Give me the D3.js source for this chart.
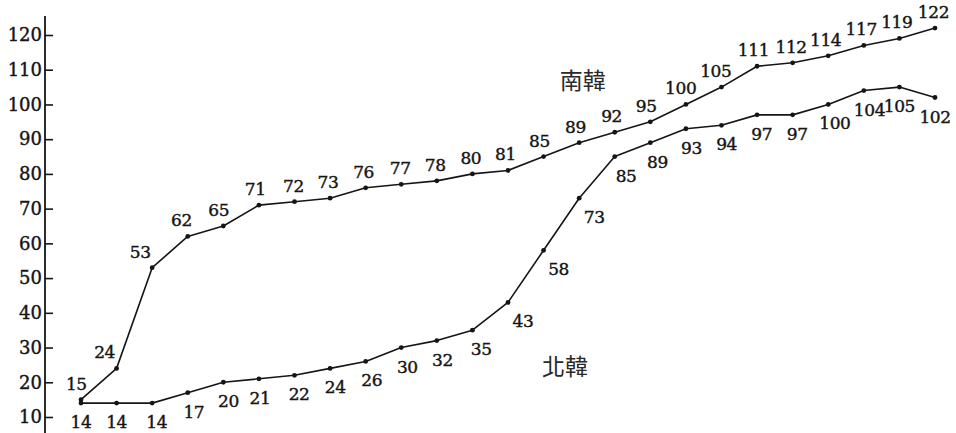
<!DOCTYPE html>
<html>
<head>
<meta charset="utf-8">
<script src="https://cdn.jsdelivr.net/npm/d3@7"></script>
<style>
  html, body { margin: 0; padding: 0; background: #fff; }
  svg { display: block; }
</style>
</head>
<body>
<svg id="chart" width="956" height="433"></svg>
<script>
// ---- data ----
const periods = [1, 2, 3, 4, 5, 6, 7, 8, 9, 10, 11, 12, 13, 14, 15, 16, 17, 18, 19, 20, 21, 22, 23, 24, 25];
const southKorea = [15, 24, 53, 62, 65, 71, 72, 73, 76, 77, 78, 80, 81, 85, 89, 92, 95, 100, 105, 111, 112, 114, 117, 119, 122];
const northKorea = [14, 14, 14, 17, 20, 21, 22, 24, 26, 30, 32, 35, 43, 58, 73, 85, 89, 93, 94, 97, 97, 100, 104, 105, 102];
const yTicks = [10, 20, 30, 40, 50, 60, 70, 80, 90, 100, 110, 120];
const seriesNames = ["南韓", "北韓"];

// ---- layout ----
const svg = d3.select("#chart");
const axisX = 45;
const x = d3.scaleLinear().domain([0, periods.length - 1]).range([81, 935]);
const y = d3.scaleLinear().domain([10, 120]).range([417, 35]);
const serif = "'DejaVu Serif', 'Liberation Serif', serif";
const ink = "#151515";

// axis
const axis = d3.axisLeft(y).tickValues(yTicks).tickSize(-8).tickPadding(3).tickFormat(d3.format("d"));
const gAxis = svg.append("g").attr("transform", `translate(${axisX},0)`).call(axis);
gAxis.select(".domain").remove();
gAxis.selectAll(".tick line").attr("stroke", ink).attr("stroke-width", 1.6);
gAxis.selectAll(".tick text")
  .attr("font-family", serif).attr("font-size", 18).attr("fill", ink)
  .attr("stroke", ink).attr("stroke-width", 0.4);
gAxis.append("line")
  .attr("x1", 0).attr("x2", 0)
  .attr("y1", y(125.5)).attr("y2", y(5))
  .attr("stroke", ink).attr("stroke-width", 1.8);

const line = d3.line().x((d, i) => x(i)).y(d => y(d));

function drawSeries(vals, above) {
  const g = svg.append("g");
  g.append("path").datum(vals)
    .attr("d", line).attr("fill", "none")
    .attr("stroke", ink).attr("stroke-width", 1.6).attr("stroke-linejoin", "round");
  g.selectAll("circle").data(vals).join("circle")
    .attr("cx", (d, i) => x(i)).attr("cy", d => y(d)).attr("r", 2.4).attr("fill", ink);
  g.selectAll("text").data(vals).join("text")
    .attr("x", (d, i) => {
      const prev = i > 0 ? vals[i - 1] : d;
      const next = i < vals.length - 1 ? vals[i + 1] : d;
      const slopePx = (y(prev) - y(next)) / 2; // positive when rising
      const shift = Math.max(0, Math.min(12, slopePx * 0.3));
      return x(i) + (above ? -shift : shift + (slopePx > 4 ? 3 : 0));
    })
    .attr("y", d => y(d) + (above ? -10 : 25))
    .attr("text-anchor", "middle")
    .attr("font-family", serif).attr("font-size", 17).attr("letter-spacing", -0.4)
    .attr("fill", ink).attr("stroke", ink).attr("stroke-width", 0.4)
    .text(d => d);
}
drawSeries(southKorea, true);
drawSeries(northKorea, false);

// series names
const cjk = "'Noto Sans CJK TC', 'Noto Sans CJK SC', sans-serif";
svg.append("text").attr("x", x(14.1)).attr("y", y(104.5))
  .attr("text-anchor", "middle").attr("font-family", cjk).attr("font-size", 23)
  .attr("fill", "#2a2a2a").text(seriesNames[0]);
svg.append("text").attr("x", x(13.6)).attr("y", y(22))
  .attr("text-anchor", "middle").attr("font-family", cjk).attr("font-size", 23)
  .attr("fill", "#2a2a2a").text(seriesNames[1]);
</script>
</body>
</html>
